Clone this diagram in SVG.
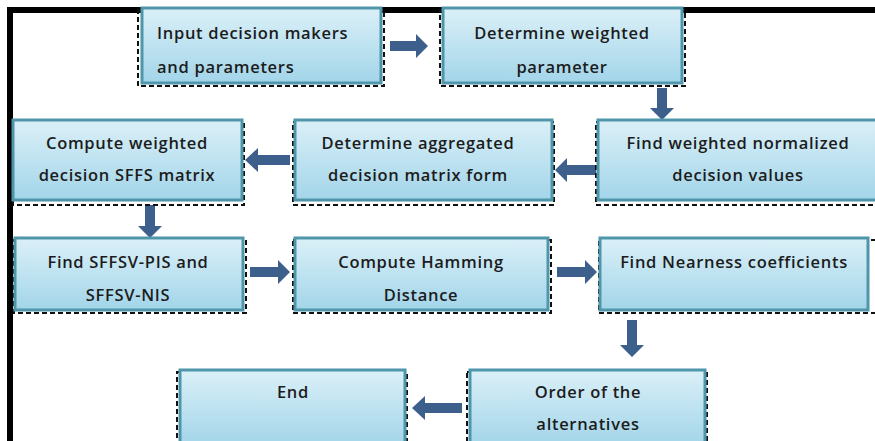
<svg xmlns="http://www.w3.org/2000/svg" width="875" height="441" viewBox="0 0 875 441">
<defs>
<linearGradient id="g" x1="0" y1="0" x2="0" y2="1">
<stop offset="0" stop-color="#dbf0f8"/>
<stop offset="1" stop-color="#a2d5e9"/>
</linearGradient>
<style>
.box{fill:url(#g);stroke:#4f96aa;stroke-width:3}
.dash{fill:none;stroke:#111;stroke-width:2;stroke-dasharray:5 3}
.t{font-family:"Open Sans","Liberation Sans",sans-serif;font-size:16.5px;font-weight:600;fill:#1c1c1c;letter-spacing:0.7px;text-anchor:middle}
.arr{fill:#3d5f8c}
</style>
</defs>
<rect width="875" height="441" fill="#fff"/>
<path d="M10,441 V10 H875" fill="none" stroke="#000" stroke-width="6"/>

<g id="connectors">
<path class="arr" d="M390,41 H416 V34 L428,46 L416,58 V51 H390 Z"/>
<path class="arr" d="M657,88 V108 H650 L662,120 L674,108 H667 V88 Z"/>
<path class="arr" d="M596,165 H567 V158 L555,170 L567,182 V175 H596 Z"/>
<path class="arr" d="M290,155 H258 V148 L245,160 L258,172 V165 H290 Z"/>
<path class="arr" d="M145,205 V226 H138 L150,238 L162,226 H155 V205 Z"/>
<path class="arr" d="M250,267 H278 V260 L290,272 L278,284 V277 H250 Z"/>
<path class="arr" d="M557,267 H585 V260 L597,272 L585,284 V277 H557 Z"/>
<path class="arr" d="M627,320 V345 H620 L632,357 L644,345 H637 V320 Z"/>
<path class="arr" d="M462,403 H425 V396 L412,408 L425,420 V413 H462 Z"/>
</g>

<g id="n1">
<rect class="dash" x="138" y="10" width="246" height="76"/>
<rect class="box" x="142" y="8" width="239" height="75"/>
<text class="t" x="157" y="39" style="text-anchor:start">Input decision makers</text>
<text class="t" x="157" y="73" style="text-anchor:start">and parameters</text>
</g>
<g id="n2">
<rect class="dash" x="440" y="10" width="245" height="76"/>
<rect class="box" x="443" y="8" width="239" height="75"/>
<text class="t" x="562" y="39">Determine weighted</text>
<text class="t" x="562" y="73">parameter</text>
</g>
<g id="n3">
<rect class="dash" x="596" y="122" width="285" height="83"/>
<rect class="box" x="598" y="120" width="280" height="80"/>
<text class="t" x="738" y="149">Find weighted normalized</text>
<text class="t" x="738" y="181">decision values</text>
</g>
<g id="n4">
<rect class="dash" x="293" y="122" width="261" height="83"/>
<rect class="box" x="295" y="120" width="257" height="80"/>
<text class="t" x="418" y="149">Determine aggregated</text>
<text class="t" x="418" y="181">decision matrix form</text>
</g>
<g id="n5">
<rect class="dash" x="13" y="122" width="231" height="83"/>
<rect class="box" x="13" y="120" width="229" height="80"/>
<text class="t" x="127" y="149">Compute weighted</text>
<text class="t" x="127" y="181">decision SFFS matrix</text>
</g>
<g id="n6">
<rect class="dash" x="14" y="240" width="232" height="73"/>
<rect class="box" x="15" y="238" width="228" height="72"/>
<text class="t" x="128" y="268">Find SFFSV-PIS and</text>
<text class="t" x="128" y="301">SFFSV-NIS</text>
</g>
<g id="n7">
<rect class="dash" x="293" y="240" width="258" height="73"/>
<rect class="box" x="295" y="238" width="253" height="72"/>
<text class="t" x="421" y="268">Compute Hamming</text>
<text class="t" x="421" y="301">Distance</text>
</g>
<g id="n8">
<rect class="dash" x="599" y="240" width="282" height="73"/>
<rect class="box" x="600" y="238" width="268" height="72"/>
<text class="t" x="734" y="268">Find Nearness coefficients</text>
</g>
<g id="n9">
<rect class="dash" x="467" y="372" width="240" height="75"/>
<rect class="box" x="470" y="370" width="235" height="75"/>
<text class="t" x="588" y="398">Order of the</text>
<text class="t" x="588" y="430">alternatives</text>
</g>
<g id="n10">
<rect class="dash" x="177" y="372" width="230" height="75"/>
<rect class="box" x="180" y="370" width="225" height="75"/>
<text class="t" x="293" y="398">End</text>
</g>
</svg>
